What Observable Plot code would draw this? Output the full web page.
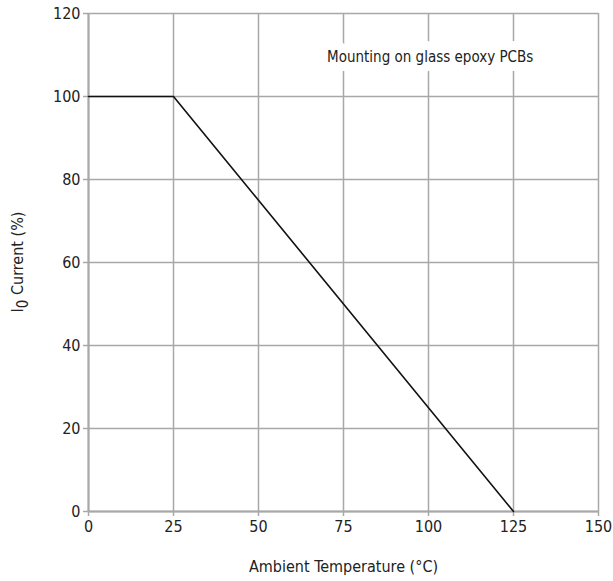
<!DOCTYPE html>
<html><head><meta charset="utf-8">
<script src="https://cdn.jsdelivr.net/npm/d3@7"></script>
<script src="https://cdn.jsdelivr.net/npm/@observablehq/plot@0.6"></script>
<style>
body{margin:0;background:#fff;}
#chart svg{font-family:"Liberation Sans Narrow","DejaVu Sans Condensed",sans-serif;}
</style>
</head><body><div id="chart"></div>
<script>
const temperature = [0, 25, 125];
const current = [100, 100, 0];
const xTicks = [0, 25, 50, 75, 100, 125, 150];
const yTicks = [0, 20, 40, 60, 80, 100, 120];
const noteText = ["Mounting on glass epoxy PCBs"];
const noteX = [100.5];
const noteY = [109.5];

const curve = temperature.map((t, i) => ({t, c: current[i]}));
const notes = noteText.map((s, i) => ({s, x: noteX[i], y: noteY[i]}));

const plot = Plot.plot({
  width: 613, height: 581,
  marginLeft: 88, marginRight: 15, marginTop: 13, marginBottom: 70,
  style: {fontSize: "16px", color: "#222", background: "#fff"},
  x: {domain: [0, 150], ticks: xTicks, label: null},
  y: {domain: [0, 120], ticks: yTicks, label: null},
  marks: [
    Plot.gridX(xTicks, {stroke: "#a8a8a8", strokeOpacity: 1, strokeWidth: 1.5}),
    Plot.gridY(yTicks, {stroke: "#a8a8a8", strokeOpacity: 1, strokeWidth: 1.5}),
    Plot.axisX({ticks: xTicks, tickSize: 5, tickPadding: 4, stroke: "#a8a8a8", strokeWidth: 1.5, fontSize: 16,
      label: "Ambient Temperature (°C)", labelAnchor: "center", labelArrow: "none", labelOffset: 60}),
    Plot.axisY({ticks: yTicks, tickSize: 5, tickPadding: 3, stroke: "#a8a8a8", strokeWidth: 1.5, fontSize: 16, label: null}),
    Plot.ruleX([0], {stroke: "#a8a8a8", strokeWidth: 2}),
    Plot.ruleY([0], {stroke: "#a8a8a8", strokeWidth: 2}),
    Plot.text(notes, {x: "x", y: "y", text: "s", fontSize: 15, fill: "#222", stroke: "white", strokeWidth: 18, paintOrder: "stroke"}),
    Plot.line(curve, {x: "t", y: "c", stroke: "#111", strokeWidth: 1.6})
  ]
});
document.getElementById("chart").append(plot);

// Y axis title with subscript
const svg = d3.select(plot);
const yMid = 13 + (581 - 13 - 70) / 2;
const lab = svg.append("text")
  .attr("transform", `translate(23,${yMid}) rotate(-90)`)
  .attr("text-anchor", "middle")
  .attr("fill", "#222")
  .attr("font-size", 16);
lab.append("tspan").text("I");
lab.append("tspan").attr("dy", 5).attr("font-size", 15).text("0");
lab.append("tspan").attr("dy", -5).text(" Current (%)");
</script>
</body></html>
